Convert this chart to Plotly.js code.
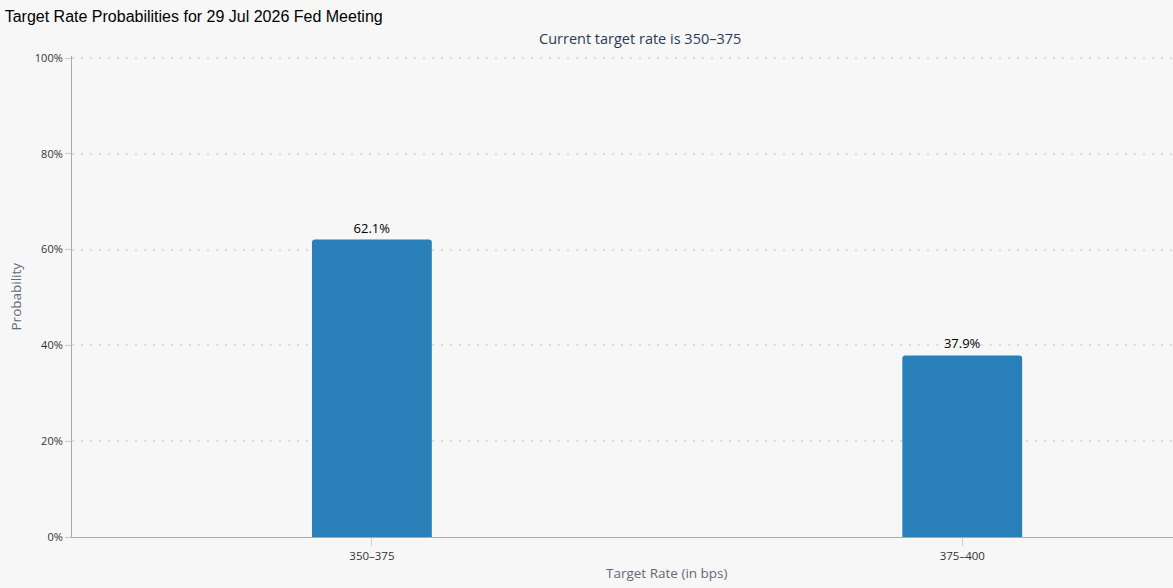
<!DOCTYPE html>
<html>
<head>
<meta charset="utf-8">
<script src="https://cdn.plot.ly/plotly-3.0.1.min.js"></script>
<style>
html,body{margin:0;padding:0;background:#f7f7f7;}
#chart{width:1173px;height:588px;}
</style>
</head>
<body>
<div id="chart"></div>
<script>
const categories = ["350–375", "375–400"];
const probabilities = [62.1, 37.9];
const yTicks = [0, 20, 40, 60, 80, 100];
const yTickLabels = ["0%", "20%", "40%", "60%", "80%", "100%"];
const chartTitle = "Target Rate Probabilities for 29 Jul 2026 Fed Meeting";
const subTitle = "Current target rate is 350–375";
const xTitle = "Target Rate (in bps)";
const yTitle = "Probability";

const trace = {
  type: "bar",
  x: categories,
  y: probabilities,
  width: 0.203,
  marker: {color: "#2980b9", cornerradius: 3},
  text: probabilities.map(v => v.toFixed(1) + "%"),
  textposition: "outside",
  textfont: {family: "Open Sans", size: 13, color: "#000"},
  cliponaxis: false,
  hoverinfo: "none"
};

const layout = {
  width: 1173,
  height: 588,
  paper_bgcolor: "#f7f7f7",
  plot_bgcolor: "#f7f7f7",
  margin: {l: 72, r: 0, t: 56, b: 51, pad: 0},
  showlegend: false,
  font: {family: "Open Sans", size: 11, color: "#333"},
  title: {
    text: chartTitle,
    font: {family: "Liberation Sans, Arial", size: 16, color: "#000"},
    x: 0.004, xanchor: "left", xref: "container",
    y: 0.972, yanchor: "middle", yref: "container"
  },
  xaxis: {
    type: "category",
    range: [-0.508, 1.357],
    showgrid: false,
    showline: true,
    linecolor: "#aaaaaa",
    linewidth: 1,
    ticks: "outside",
    ticklen: 8,
    tickcolor: "#d0d0d0",
    tickfont: {family: "Open Sans", size: 11.5, color: "#333"},
    zeroline: false,
    fixedrange: true
  },
  yaxis: {
    range: [0, 100.42],
    tickvals: yTicks,
    ticktext: yTickLabels,
    showgrid: true,
    gridcolor: "#dadada",
    griddash: "2px,7px",
    gridwidth: 2,
    showline: true,
    linecolor: "#aaaaaa",
    linewidth: 1,
    ticks: "outside",
    ticklen: 6,
    tickcolor: "#c8c8c8",
    tickfont: {family: "Open Sans", size: 11, color: "#333"},
    zeroline: false,
    fixedrange: true
  },
  annotations: [
    {
      text: subTitle, xref: "paper", yref: "paper",
      x: 0.516, y: 1.0, yshift: 6, xanchor: "center", yanchor: "bottom",
      showarrow: false,
      font: {family: "Open Sans", size: 14.5, color: "#2b3a55"}
    },
    {
      text: xTitle, xref: "paper", yref: "paper",
      x: 0.540, y: 0, yshift: -25, xanchor: "center", yanchor: "top",
      showarrow: false,
      font: {family: "Open Sans", size: 13.5, color: "#606a78"}
    },
    {
      text: yTitle, xref: "paper", yref: "paper",
      x: 0, xshift: -57, y: 0.5, xanchor: "center", yanchor: "middle",
      textangle: -90,
      showarrow: false,
      font: {family: "Open Sans", size: 13.5, color: "#606a78"}
    }
  ]
};

Plotly.newPlot("chart", [trace], layout, {staticPlot: true, displayModeBar: false});
</script>
</body>
</html>
